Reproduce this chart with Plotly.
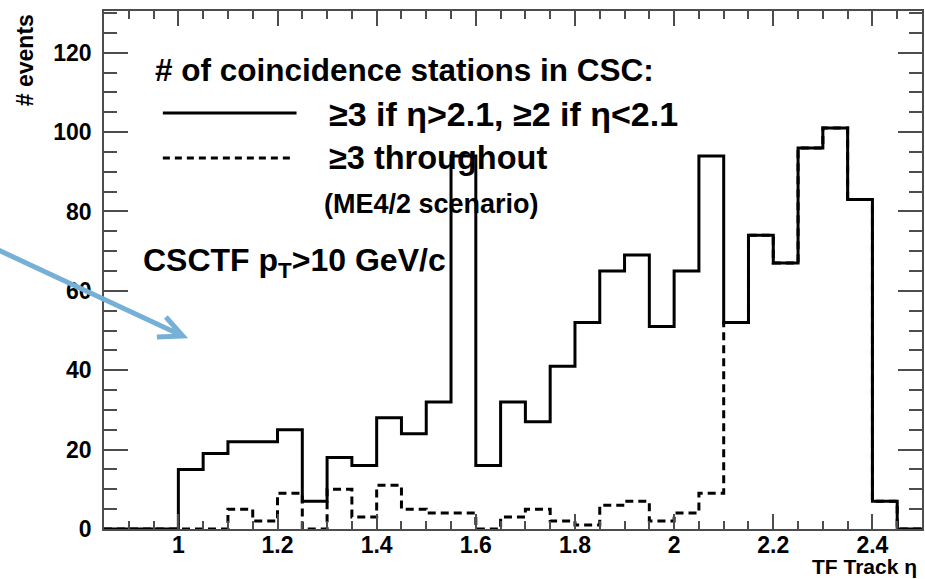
import numpy as np
import plotly.graph_objects as go

# Histogram binning in TF track eta (0.05 wide bins, 0.85 .. 2.5)
eta_min = 0.85
eta_max = 2.50
n_bins = 33

# Events per bin: >=3 stations if eta>2.1, >=2 if eta<2.1
counts_mixed = [0, 0, 0, 15, 19, 22, 22, 25, 7, 18, 16, 28, 24, 32, 94, 16, 32,
                27, 41, 52, 65, 69, 51, 65, 94, 52, 74, 67, 96, 101, 83, 7, 0]
# Events per bin: >=3 stations throughout (ME4/2 scenario)
counts_three = [0, 0, 0, 0, 0, 5, 2, 9, 0, 10, 3, 11, 5, 4, 4, 0, 3,
                5, 2, 1, 6, 7, 2, 4, 9, 52, 74, 67, 96, 101, 83, 7, 0]

x_tick_vals = [1.0, 1.2, 1.4, 1.6, 1.8, 2.0, 2.2, 2.4]
x_tick_text = ["1", "1.2", "1.4", "1.6", "1.8", "2", "2.2", "2.4"]
y_tick_vals = [0, 20, 40, 60, 80, 100, 120]
y_tick_text = ["0", "20", "40", "60", "80", "100", "120"]

edges = np.round(np.linspace(eta_min, eta_max, n_bins + 1), 4)

W, H = 925, 579
ML, MR, MT, MB = 104, 1, 11, 50
PW, PH = W - ML - MR, H - MT - MB


def px(x):
    return (x - ML) / PW


def py(y):
    return 1 - (y - MT) / PH


FONT = "Liberation Sans, Arial, Helvetica, sans-serif"
AXC = "#4d4d4d"


def step_y(vals):
    return list(vals) + [vals[-1]]


fig = go.Figure()
fig.add_trace(go.Scatter(
    x=edges, y=step_y(counts_three), mode="lines", line_shape="hv",
    line=dict(color="black", width=3, dash="8px,5px"), cliponaxis=False,
    hoverinfo="skip", showlegend=False))
fig.add_trace(go.Scatter(
    x=edges, y=step_y(counts_mixed), mode="lines", line_shape="hv",
    line=dict(color="black", width=3), cliponaxis=False,
    hoverinfo="skip", showlegend=False))

tickfont = dict(family=FONT, size=23, color="black", weight="bold")
fig.update_xaxes(
    range=[eta_min, eta_max], tickmode="array", tickvals=x_tick_vals,
    ticktext=x_tick_text, ticks="inside", ticklen=15, tickwidth=1.5,
    tickcolor=AXC, showline=True, linecolor=AXC, linewidth=1.5,
    mirror="ticks", showgrid=False, zeroline=False, tickfont=tickfont,
    ticklabelstandoff=-5,
    minor=dict(ticks="inside", ticklen=8, dtick=0.05, tick0=0,
               tickcolor=AXC, tickwidth=1.5, showgrid=False))
fig.update_yaxes(
    range=[0, 130.5], tickmode="array", tickvals=y_tick_vals,
    ticktext=y_tick_text, ticks="inside", ticklen=24, tickwidth=1.5,
    tickcolor=AXC, showline=True, linecolor=AXC, linewidth=1.5,
    mirror="ticks", showgrid=False, zeroline=False, tickfont=tickfont,
    ticklabelstandoff=6,
    minor=dict(ticks="inside", ticklen=13, dtick=5, tick0=0,
               tickcolor=AXC, tickwidth=1.5, showgrid=False))


def label(text, x, y, size, xanchor="left", yanchor="middle", angle=0):
    fig.add_annotation(
        text=text, xref="paper", yref="paper", x=px(x), y=py(y),
        xanchor=xanchor, yanchor=yanchor, showarrow=False, textangle=angle,
        font=dict(family=FONT, size=size, color="black", weight="bold"))


label("# of coincidence stations in CSC:", 153, 70, 31.5)
label("≥3 if η>2.1, ≥2 if η<2.1", 328, 114, 34)
label("≥3 throughout", 328, 158, 32.5)
label("(ME4/2 scenario)", 323, 204, 27)
label("CSCTF p<sub>T</sub>>10 GeV/c", 141, 262, 32)
label("TF Track η", 921, 566, 21, xanchor="right")
label("# events", 25, 12, 23, xanchor="center", yanchor="top", angle=-90)

# legend line samples
fig.add_shape(type="line", xref="paper", yref="paper",
              x0=px(163), x1=px(297), y0=py(113), y1=py(113),
              line=dict(color="black", width=3))
fig.add_shape(type="line", xref="paper", yref="paper",
              x0=px(163), x1=px(293), y0=py(158), y1=py(158),
              line=dict(color="black", width=3, dash="7px,5px"))

# pointer arrow
tip = (183, 336)
tail = (-2, 250)
wing_a = (166, 317)
wing_b = (157, 337)


def pt(p):
    return f"{px(p[0]):.5f},{py(p[1]):.5f}"


arrow_path = (f"M {pt(tail)} L {pt(tip)} "
              f"M {pt(wing_a)} L {pt(tip)} L {pt(wing_b)}")
fig.add_shape(type="path", xref="paper", yref="paper", path=arrow_path,
              layer="above", line=dict(color="rgb(119,176,214)", width=5))

fig.update_layout(
    width=W, height=H, margin=dict(l=ML, r=MR, t=MT, b=MB),
    paper_bgcolor="white", plot_bgcolor="white", showlegend=False)

fig.write_html("out.html")
